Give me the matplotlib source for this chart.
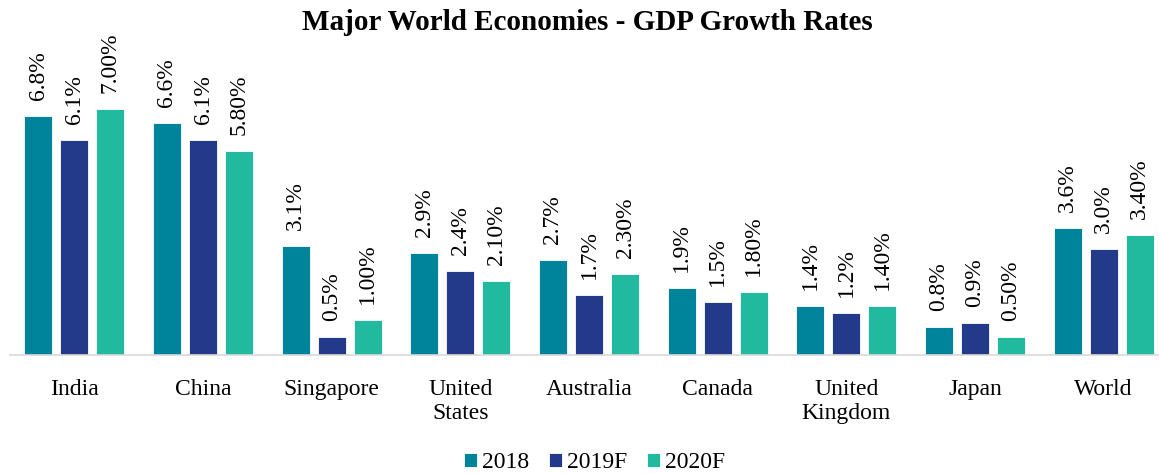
import numpy as np
import matplotlib
matplotlib.use("Agg")
import matplotlib.pyplot as plt

plt.rcParams['font.family'] = ['Liberation Serif', 'DejaVu Serif']

paises = ['India', 'China', 'Singapore', 'United\nStates', 'Australia',
          'Canada', 'United\nKingdom', 'Japan', 'World']
series = ['2018', '2019F', '2020F']
v2018 = [6.8, 6.6, 3.1, 2.9, 2.7, 1.9, 1.4, 0.8, 3.6]
v2019 = [6.1, 6.1, 0.5, 2.4, 1.7, 1.5, 1.2, 0.9, 3.0]
v2020 = [7.0, 5.8, 1.0, 2.1, 2.3, 1.8, 1.4, 0.5, 3.4]

colores = ['#00849B', '#233A8A', '#22BA9E']
formatos = ['{:.1f}%', '{:.1f}%', '{:.2f}%']

W, H = 1159, 474
fig = plt.figure(figsize=(W / 100, H / 100), dpi=100)
ax = fig.add_axes([10 / W, (H - 355) / H, (1168 - 10) / W, (355 - 44) / H])

x = np.arange(len(paises))
ancho = 0.218
sep = 0.28

for i, (vals, col, fmt, nom) in enumerate(zip([v2018, v2019, v2020], colores, formatos, series)):
    pos = x + (i - 1) * sep
    ax.bar(pos, vals, width=ancho, color=col, edgecolor='white', linewidth=0.6, label=nom)
    for xp, v in zip(pos, vals):
        ax.annotate(fmt.format(v), (xp, v), xytext=(0, 11.5), textcoords='offset points',
                    rotation=90, ha='center', va='bottom', fontsize=17)

ax.set_xlim(-0.5, 8.5)
ax.set_ylim(0, 8.84)
ax.set_xticks(x)
ax.set_xticklabels(paises, fontsize=17, linespacing=1.2)
ax.tick_params(axis='x', length=0, pad=17)
ax.set_yticks([])
for s in ['top', 'right', 'left']:
    ax.spines[s].set_visible(False)
ax.spines['bottom'].set_color('#d9d9d9')
ax.spines['bottom'].set_linewidth(1.2)

fig.text(0.507, 1 - 22 / H, 'Major World Economies - GDP Growth Rates',
         ha='center', va='center', fontsize=21, fontweight='bold')

fig.legend(loc='center', bbox_to_anchor=(0.513, 1 - 463 / H), ncol=3, frameon=False,
           fontsize=17, handlelength=0.55, handleheight=0.55, handletextpad=0.2,
           columnspacing=0.85, borderaxespad=0)

fig.savefig('out.png', dpi=100)
